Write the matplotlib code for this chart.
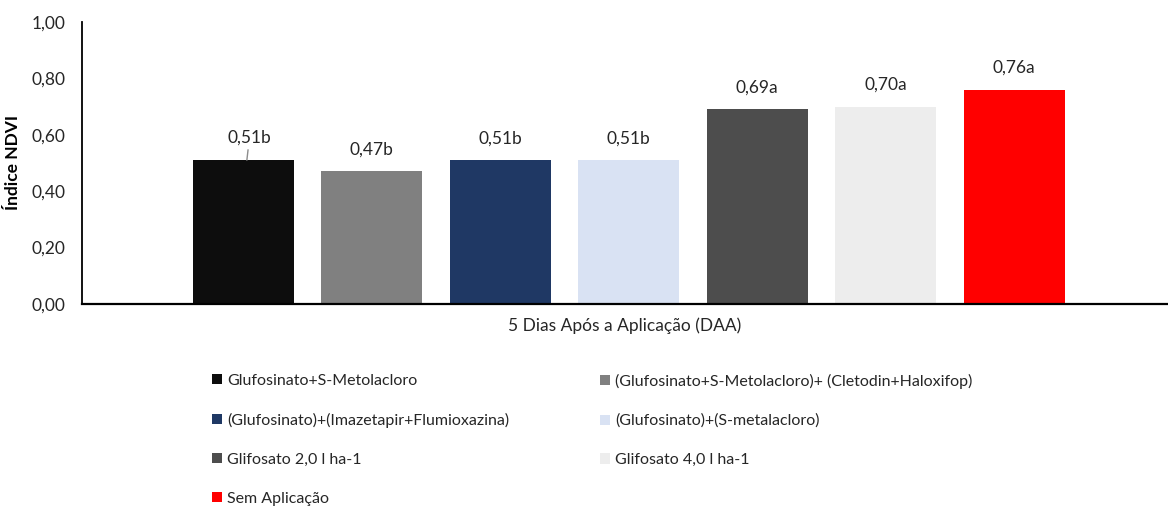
import numpy as np
import matplotlib
matplotlib.use("Agg")
from matplotlib import pyplot as plt
from matplotlib.patches import Patch

TRATAMENTOS = [
    "Glufosinato+S-Metolacloro",
    "(Glufosinato+S-Metolacloro)+ (Cletodin+Haloxifop)",
    "(Glufosinato)+(Imazetapir+Flumioxazina)",
    "(Glufosinato)+(S-metalacloro)",
    "Glifosato 2,0 l ha-1",
    "Glifosato 4,0 l ha-1",
    "Sem Aplicação",
]
NDVI = [0.51, 0.47, 0.51, 0.51, 0.69, 0.70, 0.76]
LETRAS = ["b", "b", "b", "b", "a", "a", "a"]
CORES = ["#0d0d0d", "#808080", "#1f3864", "#d9e2f3", "#4d4d4d", "#ededed", "#ff0000"]
Y_TICKS = [0.0, 0.2, 0.4, 0.6, 0.8, 1.0]


def fmt(v: float) -> str:
    return f"{v:.2f}".replace(".", ",")


def main() -> None:
    plt.rcParams["font.family"] = ["Lato", "DejaVu Sans"]
    fig = plt.figure(figsize=(11.68, 5.08), dpi=100)
    ax = fig.add_axes([0.0702, 0.4016, 0.9298, 0.5551])

    x = np.arange(len(NDVI))
    ax.bar(x, NDVI, width=0.786, color=CORES, zorder=2)
    ax.set_xlim(-1.253, 7.198)
    ax.set_ylim(0, 1.0)
    ax.set_yticks(Y_TICKS)
    ax.set_yticklabels([fmt(t) for t in Y_TICKS])
    ax.set_xticks([])
    ax.tick_params(axis="y", length=0, labelsize=12.5, pad=12, colors="#262626")

    for side in ("top", "right"):
        ax.spines[side].set_visible(False)
    ax.spines["left"].set_linewidth(1.3)
    ax.spines["bottom"].set_linewidth(1.6)

    for i, (v, l) in enumerate(zip(NDVI, LETRAS)):
        if i == 0:
            # rótulo deslocado com linha de chamada
            ax.annotate(f"{fmt(v)}{l}", xy=(x[i] + 0.03, v), xytext=(x[i] + 0.05, v + 0.08),
                        ha="center", va="center", fontsize=12.5, color="#262626",
                        arrowprops=dict(arrowstyle="-", color="#8c8c8c", lw=1,
                                        shrinkA=1, shrinkB=0))
        else:
            ax.text(x[i], v + 0.078, f"{fmt(v)}{l}", ha="center", va="center",
                    fontsize=12.5, color="#262626")

    ax.set_ylabel("Índice NDVI", fontsize=12.5, fontweight="bold")
    ax.yaxis.set_label_coords(-0.056, 0.5)
    ax.set_xlabel("5 Dias Após a Aplicação (DAA)", fontsize=12.5, color="#262626",
                  labelpad=10)

    # legenda em duas colunas independentes
    handles = [Patch(facecolor=c, label=t) for c, t in zip(CORES, TRATAMENTOS)]
    estilo = dict(loc="upper left", frameon=False, fontsize=11.5, borderpad=0,
                  borderaxespad=0, handlelength=0.6, handleheight=0.6,
                  handletextpad=0.35, labelspacing=1.56, labelcolor="#262626")
    for idx, x0 in (([0, 2, 4, 6], 0.1815), ([1, 3, 5], 0.5137)):
        fig.legend([handles[i] for i in idx], [TRATAMENTOS[i] for i in idx],
                   bbox_to_anchor=(x0, 0.264), **estilo)

    fig.savefig("out.png", dpi=100)


if __name__ == "__main__":
    main()
